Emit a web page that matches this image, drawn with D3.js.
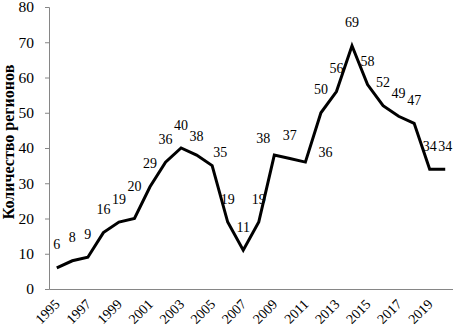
<!DOCTYPE html>
<html><head><meta charset="utf-8">
<script src="https://cdn.jsdelivr.net/npm/d3@7/dist/d3.min.js"></script>
<style>
html,body{margin:0;padding:0;background:#fff;}
svg{display:block;}
svg text{font-family:"Liberation Serif","Times New Roman",serif;fill:#000;}
.ttl{font-weight:bold;}
</style></head>
<body>
<svg id="chart" width="453" height="332"></svg>
<script>
const years = [1995,1996,1997,1998,1999,2000,2001,2002,2003,2004,2005,2006,2007,2008,2009,2010,2011,2012,2013,2014,2015,2016,2017,2018,2019,2020];
const regions = [6,8,9,16,19,20,29,36,40,38,35,19,11,19,38,37,36,50,56,69,58,52,49,47,34,34];
const yTicks = [0,10,20,30,40,50,60,70,80];
const xTickYears = [1995,1997,1999,2001,2003,2005,2007,2009,2011,2013,2015,2017,2019];
const yTitle = "Количество регионов";
// manual label nudges (dx, dy) for a few labels
const labelNudge = {2000:[0,-9],2004:[0,4],2005:[8,10],2009:[-11,6],2011:[20,13]};

const svg = d3.select("#chart");
const mLeft = 49, mRight = 453, mTop = 7, mBottom = 289;

const x = d3.scaleBand().domain(years).range([mLeft, mRight]).paddingInner(0).paddingOuter(0);
const y = d3.scaleLinear().domain([0, 80]).range([mBottom, mTop]);
const cx = d => x(d) + x.bandwidth()/2;

// Y axis
const yAxis = svg.append("g").attr("transform", `translate(${mLeft},0)`)
  .call(d3.axisLeft(y).tickValues(yTicks).tickSize(4).tickPadding(11));
yAxis.attr("font-family", null).attr("font-size", null);
yAxis.select(".domain").attr("stroke", "#868686");
yAxis.selectAll(".tick line").attr("stroke", "#868686");
yAxis.selectAll("text").style("font-size", "15.5px");

// X axis line (labels drawn separately)
const xAxis = svg.append("g").attr("transform", `translate(0,${mBottom})`)
  .call(d3.axisBottom(x).tickValues([]).tickSize(0).tickSizeOuter(0));
xAxis.select(".domain").attr("stroke", "#868686");

svg.append("g").selectAll("text").data(xTickYears).join("text")
  .attr("transform", d => `translate(${cx(d) + 4},${mBottom + 16}) rotate(-45)`)
  .attr("text-anchor", "end")
  .style("font-size", "14px")
  .text(d => d);

// Y title
svg.append("text").attr("class", "ttl")
  .attr("transform", `translate(14,142) rotate(-90)`)
  .attr("text-anchor", "middle")
  .style("font-size", "16px")
  .text(yTitle);

// line
const line = d3.line().x((d,i) => cx(years[i])).y(d => y(d));
svg.append("path").datum(regions)
  .attr("fill", "none").attr("stroke", "#000").attr("stroke-width", 3)
  .attr("stroke-linejoin", "miter").attr("d", line);

// labels
svg.append("g").selectAll("text").data(regions).join("text")
  .attr("x", (d,i) => cx(years[i]) + (labelNudge[years[i]] ? labelNudge[years[i]][0] : 0))
  .attr("y", (d,i) => y(d) - 23 + (labelNudge[years[i]] ? labelNudge[years[i]][1] : 0))
  .attr("text-anchor", "middle").attr("dominant-baseline", "central")
  .style("font-size", "14px")
  .text(d => d);
</script>
</body></html>
